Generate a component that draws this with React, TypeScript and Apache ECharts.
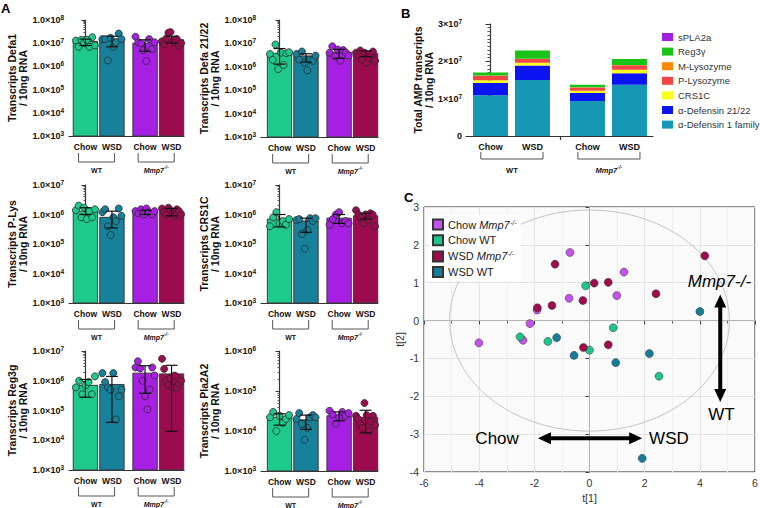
import React, { useEffect, useRef } from 'react';
import * as echarts from 'echarts';

const FONT = '"Liberation Sans", Arial, Helvetica, sans-serif';

/* ---------------- Panel A data ---------------- */
const dietLabels = ['Chow', 'WSD', 'Chow', 'WSD'];
const genotypeLabels = ['WT', 'Mmp7'];

const defa1Mean = [1.2e7, 1.5e7, 1.0e7, 1.4e7];
const defa1Low = [8.0e6, 7.0e6, 4.5e6, 1.0e7];
const defa1High = [1.5e7, 2.0e7, 1.4e7, 2.0e7];
const defa1Points = [
  [1.3e7, 7.0e6, 1.4e7, 1.0e7, 1.4e7, 7.0e6, 1.8e7, 8.0e6],
  [1.5e7, 1.5e7, 1.8e6, 1.7e7, 7.0e6, 1.1e7, 2.6e7, 1.5e7],
  [1.9e7, 1.1e7, 1.0e7, 5.0e6, 1.7e6, 1.5e7, 5.5e6, 1.1e7],
  [1.2e7, 9.0e6, 1.6e7, 2.8e7, 3.0e7, 1.3e7, 1.1e7, 1.5e7, 8.0e6, 1.0e7],
];

const defa2122Mean = [3.8e6, 2.9e6, 4.2e6, 3.8e6];
const defa2122Low = [1.3e6, 1.6e6, 2.3e6, 2.7e6];
const defa2122High = [6.0e6, 3.6e6, 5.6e6, 4.8e6];
const defa2122Points = [
  [3.5e6, 2.0e6, 9.0e6, 8.0e5, 4.0e6, 1.2e6, 3.8e6, 4.2e6],
  [3.5e6, 2.0e6, 4.5e6, 1.5e6, 7.0e5, 2.0e6, 1.8e6, 3.0e6],
  [4.0e6, 7.5e6, 2.8e6, 5.5e6, 1.8e6, 5.2e6, 4.0e6, 3.0e6],
  [4.0e6, 3.0e6, 5.0e6, 2.0e6, 4.0e6, 1.5e6, 2.5e6, 3.5e6, 4.5e6, 1.8e6],
];

const pLysMean = [1.3e6, 8.0e5, 1.2e6, 1.25e6];
const pLysLow = [1.0e6, 3.5e5, 1.0e6, 9.0e5];
const pLysHigh = [1.7e6, 1.3e6, 1.4e6, 1.6e6];
const pLysPoints = [
  [1.4e6, 2.0e6, 8.0e5, 1.7e6, 7.0e5, 1.3e6, 8.0e5, 1.5e6],
  [1.2e6, 1.5e6, 4.0e5, 2.0e5, 8.0e5, 6.0e5, 1.6e6, 9.0e5],
  [1.3e6, 1.1e6, 1.5e6, 1.0e6, 1.6e6, 1.2e6, 1.0e6, 1.3e6],
  [1.6e6, 1.2e6, 1.0e6, 1.7e6, 1.4e6, 1.1e6, 9.0e5, 1.5e6, 1.3e6, 1.0e6],
];

const crs1cMean = [7.0e5, 6.0e5, 7.5e5, 9.0e5];
const crs1cLow = [3.8e5, 2.5e5, 5.0e5, 7.0e5];
const crs1cHigh = [1.0e6, 7.5e5, 1.0e6, 1.1e6];
const crs1cPoints = [
  [4.0e5, 8.0e5, 1.2e6, 5.0e5, 6.0e5, 4.5e5, 7.0e5],
  [6.5e5, 7.0e5, 2.2e5, 7.0e4, 3.0e5, 7.5e5, 6.0e5, 7.5e5],
  [4.5e5, 7.0e5, 1.0e6, 1.2e6, 5.0e5, 6.0e5, 5.0e5],
  [1.4e6, 1.0e6, 8.0e5, 5.0e5, 1.0e6, 6.5e5, 1.1e6, 1.0e6, 4.0e5],
];

const reg3gMean = [7.0e5, 7.5e5, 1.8e6, 1.7e6];
const reg3gLow = [2.8e5, 4.0e4, 3.8e5, 2.0e4];
const reg3gHigh = [1.1e6, 1.4e6, 3.2e6, 3.3e6];
const reg3gPoints = [
  [6.0e5, 1.0e6, 3.5e5, 7.0e5, 9.0e5, 3.5e5, 1.4e6],
  [1.8e6, 9.0e5, 6.0e5, 5.0e5, 1.8e6, 5.0e4, 3.0e5, 5.0e5],
  [2.8e6, 4.5e6, 2.6e6, 1.0e6, 3.0e5, 1.1e5, 5.0e5, 2.8e6, 1.5e6],
  [5.5e6, 2.5e6, 1.0e6, 7.0e5, 1.2e6, 6.0e5, 1.5e6, 6.0e5, 8.0e5, 1.0e6],
];

const pla2a2Mean = [2.2e4, 1.9e4, 2.4e4, 2.2e4];
const pla2a2Low = [1.4e4, 1.1e4, 1.8e4, 9.0e3];
const pla2a2High = [2.7e4, 2.5e4, 3.0e4, 3.3e4];
const pla2a2Points = [
  [2.2e4, 3.0e4, 1.0e4, 2.4e4, 1.6e4, 2.0e4, 2.5e4],
  [2.0e4, 2.8e4, 1.5e4, 6.0e3, 1.2e4, 2.2e4, 2.5e4, 2.2e4],
  [3.2e4, 2.6e4, 1.5e4, 2.2e4, 3.0e4, 2.4e4, 2.8e4],
  [2.4e4, 2.0e4, 1.5e4, 1.2e4, 5.0e4, 2.5e4, 1.0e4, 1.7e4, 2.4e4, 1.4e4],
];

const panelsA = [
  { name: 'Transcripts Defa1\n/ 10ng RNA', mean: defa1Mean, low: defa1Low, high: defa1High, points: defa1Points, minExp: 3, maxExp: 8 },
  { name: 'Transcripts Defa 21/22\n/ 10ng RNA', mean: defa2122Mean, low: defa2122Low, high: defa2122High, points: defa2122Points, minExp: 3, maxExp: 8 },
  { name: 'Transcripts P-Lys\n/ 10ng RNA', mean: pLysMean, low: pLysLow, high: pLysHigh, points: pLysPoints, minExp: 3, maxExp: 7 },
  { name: 'Transcripts CRS1C\n/ 10ng RNA', mean: crs1cMean, low: crs1cLow, high: crs1cHigh, points: crs1cPoints, minExp: 3, maxExp: 7 },
  { name: 'Transcripts Reg3g\n/ 10ng RNA', mean: reg3gMean, low: reg3gLow, high: reg3gHigh, points: reg3gPoints, minExp: 3, maxExp: 7 },
  { name: 'Transcripts Pla2A2\n/ 10ng RNA', mean: pla2a2Mean, low: pla2a2Low, high: pla2a2High, points: pla2a2Points, minExp: 3, maxExp: 6 },
];

/* ---------------- Panel B data ---------------- */
const ampGroups = ['Chow WT', 'WSD WT', 'Chow Mmp7', 'WSD Mmp7'];
const ampComponents = ['α-Defensin 1 family', 'α-Defensin 21/22', 'CRS1C', 'P-Lysozyme', 'M-Lysozyme', 'Reg3γ', 'sPLA2a'];
const ampDefensin1 = [1.09e7, 1.5e7, 0.94e7, 1.37e7];
const ampDefensin2122 = [0.33e7, 0.39e7, 0.215e7, 0.314e7];
const ampCrs1c = [0.07e7, 0.07e7, 0.054e7, 0.09e7];
const ampPLys = [0.12e7, 0.1e7, 0.09e7, 0.12e7];
const ampMLys = [0.008e7, 0.008e7, 0.005e7, 0.006e7];
const ampReg3 = [0.08e7, 0.22e7, 0.07e7, 0.16e7];
const ampSpla2a = [0.002e7, 0.003e7, 0.002e7, 0.002e7];
const ampValues = [ampDefensin1, ampDefensin2122, ampCrs1c, ampPLys, ampMLys, ampReg3, ampSpla2a];

/* ---------------- Panel C data ---------------- */
const pcaNames = ['Chow Mmp7', 'Chow WT', 'WSD Mmp7', 'WSD WT'];
const pcaChowMmp7 = [[-0.71, 1.8], [-0.74, 0.59], [-1.9, 0.28], [-2.16, -0.08], [-2.41, -0.52], [-4.01, -0.59], [1.25, 1.28], [0.99, 0.66]];
const pcaChowWT = [[-0.14, 0.92], [-2.52, -0.43], [-1.51, -0.55], [0.0, -0.78], [0.86, -0.19], [2.52, -1.47]];
const pcaWsdMmp7 = [[-1.25, 1.49], [0.17, 0.99], [0.68, 1.01], [-0.24, 0.53], [-1.36, 0.4], [-1.89, 0.34], [-0.22, -0.71], [0.68, -0.64], [4.18, 1.71], [2.41, 0.71]];
const pcaWsdWT = [[-1.19, -0.45], [-0.56, -0.92], [4.0, 0.24], [2.17, -0.87], [0.95, -1.11], [1.91, -3.64]];
const pcaSeries = [pcaChowMmp7, pcaChowWT, pcaWsdMmp7, pcaWsdWT];
const pcaEllipse = [0, 0, 5.07, 2.92];

/* ---------------- styles & layout ---------------- */
const A_COLORS = ['#1fc98b', '#17809a', '#a61fe2', '#9a0c4e'];
const B_COLORS = ['#1598b4', '#0c14f2', '#ffff1a', '#f24545', '#ff8a00', '#19c419', '#a020e0'];
const C_COLORS = ['#c353ea', '#1fc489', '#9d0d4c', '#157d98'];

const A_POS = [0, 1, 2.25, 3.25];
const A_BAR_W = 0.92;
const A_SPREAD = 0.72;
const A_XMAX = 3.72;
const A_LAYOUT = [
  { left: 69, top: 20, width: 115, height: 116, xMin: -0.62 },
  { left: 261, top: 20, width: 117, height: 117, xMin: -0.7 },
  { left: 69, top: 185, width: 115, height: 118, xMin: -0.62 },
  { left: 261, top: 185, width: 117, height: 118, xMin: -0.7 },
  { left: 69, top: 351, width: 115, height: 119, xMin: -0.62 },
  { left: 261, top: 351, width: 117, height: 120, xMin: -0.7 },
];
const B_POS = [0, 1, 2.31, 3.31];
const B_BAR_W = 0.833;

const C_ARROWS = [
  { from: [-1.87, -3.11], to: [1.91, -3.11] },
  { from: [4.74, 0.69], to: [4.74, -2.15] },
];
const C_TEXTS = [
  { text: 'Chow', at: [-3.35, -3.11], italic: false },
  { text: 'WSD', at: [2.88, -3.11], italic: false },
  { text: 'Mmp7-/-', at: [4.71, 1.04], italic: true },
  { text: 'WT', at: [4.78, -2.49], italic: false },
];

const nearestIdx = (arr: number[], v: number) =>
  arr.reduce((best, p, i) => (Math.abs(p - v) < Math.abs(arr[best] - v) ? i : best), 0);

const supRich = (size: number, supSize: number, color = '#111') => ({
  b: { fontSize: size, fontWeight: 'bold', fontFamily: FONT, color, lineHeight: size + 3 },
  s: { fontSize: supSize, fontWeight: 'bold', fontFamily: FONT, color, verticalAlign: 'top', lineHeight: supSize },
});

const genoRich = (size: number) => ({
  g: { fontSize: size, fontWeight: 'bold', fontFamily: FONT, fill: '#111', color: '#111', lineHeight: size + 3 },
  i: { fontSize: size, fontWeight: 'bold', fontStyle: 'italic', fontFamily: FONT, fill: '#111', color: '#111', lineHeight: size + 3 },
  s: { fontSize: size * 0.7, fontWeight: 'bold', fontStyle: 'italic', fontFamily: FONT, fill: '#111', color: '#111', verticalAlign: 'top', lineHeight: size * 0.7 },
});

function bracketSeries(gridIdx: number, yBase: number, spans: number[][], off: any, size: number) {
  return {
    type: 'custom',
    xAxisIndex: gridIdx,
    yAxisIndex: gridIdx,
    silent: true,
    z: 5,
    encode: { x: [0, 2], y: 1 },
    data: spans.map((s, gi) => [s[0], yBase, s[1], gi]),
    renderItem: (params: any, api: any) => {
      const a = api.coord([api.value(0), api.value(1)]);
      const b = api.coord([api.value(2), api.value(1)]);
      const gi = api.value(3);
      const base = a[1];
      const label = genotypeLabels[gi] === 'WT' ? '{g|WT}' : '{i|Mmp7}{s|-/-}';
      return {
        type: 'group',
        children: [
          {
            type: 'polyline',
            shape: { points: [[a[0], base + off.top], [a[0], base + off.bottom], [b[0], base + off.bottom], [b[0], base + off.top]] },
            style: { stroke: '#555', lineWidth: 1, fill: 'none' },
          },
          {
            type: 'text',
            style: {
              text: label,
              x: (a[0] + b[0]) / 2,
              y: base + off.label,
              align: 'center',
              verticalAlign: 'middle',
              fontSize: size,
              fontFamily: FONT,
              fontWeight: 'bold',
              fill: '#111',
              rich: genoRich(size),
            },
          },
        ],
      };
    },
  };
}

function arrowChildren(p: number[], q: number[], headLen: number, headW: number, shaftW: number) {
  const dx = q[0] - p[0];
  const dy = q[1] - p[1];
  const len = Math.hypot(dx, dy);
  const ux = dx / len;
  const uy = dy / len;
  const nx = -uy;
  const ny = ux;
  const p2 = [p[0] + ux * headLen, p[1] + uy * headLen];
  const q2 = [q[0] - ux * headLen, q[1] - uy * headLen];
  return [
    {
      type: 'line',
      shape: { x1: p[0] + ux * headLen * 0.6, y1: p[1] + uy * headLen * 0.6, x2: q[0] - ux * headLen * 0.6, y2: q[1] - uy * headLen * 0.6 },
      style: { stroke: '#000', lineWidth: shaftW },
    },
    {
      type: 'polygon',
      shape: { points: [p, [p2[0] + (nx * headW) / 2, p2[1] + (ny * headW) / 2], [p2[0] - (nx * headW) / 2, p2[1] - (ny * headW) / 2]] },
      style: { fill: '#000' },
    },
    {
      type: 'polygon',
      shape: { points: [q, [q2[0] + (nx * headW) / 2, q2[1] + (ny * headW) / 2], [q2[0] - (nx * headW) / 2, q2[1] - (ny * headW) / 2]] },
      style: { fill: '#000' },
    },
  ];
}

function buildOption() {
  const grid: any[] = [];
  const xAxis: any[] = [];
  const yAxis: any[] = [];
  const series: any[] = [];

  /* ----- Panel A ----- */
  panelsA.forEach((p, i) => {
    const L = A_LAYOUT[i];
    const yMin = Math.pow(10, p.minExp);
    const yMax = Math.pow(10, p.maxExp);
    grid.push({ left: L.left, top: L.top, width: L.width, height: L.height, outerBoundsMode: 'none' });
    xAxis.push({
      gridIndex: i,
      type: 'value',
      min: L.xMin,
      max: A_XMAX,
      axisLine: { show: true, lineStyle: { color: '#333', width: 1.2 } },
      axisTick: { show: false },
      splitLine: { show: false },
      axisLabel: {
        customValues: A_POS,
        formatter: (v: number) => dietLabels[nearestIdx(A_POS, v)],
        fontSize: 8.5,
        fontWeight: 'bold',
        fontFamily: FONT,
        color: '#111',
        margin: 6,
      },
    });
    yAxis.push({
      gridIndex: i,
      type: 'log',
      logBase: 10,
      min: yMin,
      max: yMax,
      splitNumber: p.maxExp - p.minExp,
      axisLine: { show: true, lineStyle: { color: '#333', width: 1.2 } },
      axisTick: { show: true, length: 4, lineStyle: { color: '#333' } },
      minorTick: { show: true, splitNumber: 9, length: 2, lineStyle: { color: '#555' } },
      splitLine: { show: false },
      axisLabel: {
        formatter: (v: number) => `{b|1.0×10}{s|${Math.round(Math.log10(v))}}`,
        rich: supRich(9, 6.5),
        margin: 5,
      },
      name: p.name,
      nameLocation: 'middle',
      nameGap: 41,
      nameTextStyle: { fontSize: 10.5, fontWeight: 'bold', fontFamily: FONT, color: '#111', lineHeight: 11 },
    });
    series.push({
      type: 'custom',
      xAxisIndex: i,
      yAxisIndex: i,
      silent: true,
      z: 2,
      data: p.mean.map((m, g) => [A_POS[g], m, g]),
      renderItem: (params: any, api: any) => {
        const x = api.value(0);
        const tl = api.coord([x - A_BAR_W / 2, api.value(1)]);
        const br = api.coord([x + A_BAR_W / 2, yMin]);
        return {
          type: 'rect',
          shape: { x: tl[0], y: tl[1], width: br[0] - tl[0], height: br[1] - tl[1] },
          style: { fill: A_COLORS[api.value(2)], stroke: '#3a3a3a', lineWidth: 1 },
        };
      },
    });
    const dots: any[] = [];
    p.points.forEach((pts, g) => {
      pts.forEach((v, k) => {
        const off = pts.length > 1 ? (k / (pts.length - 1) - 0.5) * A_SPREAD : 0;
        dots.push({ value: [A_POS[g] + off, v], itemStyle: { color: A_COLORS[g] } });
      });
    });
    series.push({
      type: 'scatter',
      xAxisIndex: i,
      yAxisIndex: i,
      silent: true,
      z: 3,
      symbolSize: 7,
      itemStyle: { borderColor: '#2a2a2a', borderWidth: 0.8, opacity: 1 },
      data: dots,
    });
    series.push({
      type: 'custom',
      xAxisIndex: i,
      yAxisIndex: i,
      silent: true,
      z: 4,
      data: p.mean.map((m, g) => [A_POS[g], m, p.low[g], p.high[g]]),
      renderItem: (params: any, api: any) => {
        const x = api.value(0);
        const lo = api.coord([x, api.value(2)]);
        const hi = api.coord([x, api.value(3)]);
        const cw = 6;
        const st = { stroke: '#111', lineWidth: 1.2 };
        return {
          type: 'group',
          children: [
            { type: 'line', shape: { x1: lo[0], y1: lo[1], x2: hi[0], y2: hi[1] }, style: st },
            { type: 'line', shape: { x1: lo[0] - cw, y1: lo[1], x2: lo[0] + cw, y2: lo[1] }, style: st },
            { type: 'line', shape: { x1: hi[0] - cw, y1: hi[1], x2: hi[0] + cw, y2: hi[1] }, style: st },
          ],
        };
      },
    });
    series.push(
      bracketSeries(
        i,
        yMin,
        [
          [A_POS[0] - 0.26, A_POS[1] + 0.1],
          [A_POS[2] - 0.26, A_POS[3] + 0.1],
        ],
        { top: 17, bottom: 26, label: 34 },
        7,
      ),
    );
  });

  /* ----- Panel B ----- */
  const bi = 6;
  grid.push({ left: 466, top: 24, width: 187, height: 112, outerBoundsMode: 'none' });
  xAxis.push({
    gridIndex: bi,
    type: 'value',
    min: -0.583,
    max: 3.87,
    axisLine: { show: true, lineStyle: { color: '#333', width: 1.2 } },
    axisTick: { show: true, customValues: [1.65], length: 4, lineStyle: { color: '#333', width: 1.2 } },
    splitLine: { show: false },
    axisLabel: {
      customValues: B_POS,
      formatter: (v: number) => dietLabels[nearestIdx(B_POS, v)],
      fontSize: 9,
      fontWeight: 'bold',
      fontFamily: FONT,
      color: '#111',
      margin: 6,
    },
  });
  yAxis.push({
    gridIndex: bi,
    type: 'value',
    min: 0,
    max: 3e7,
    interval: 1e7,
    axisLine: { show: true, lineStyle: { color: '#333', width: 1.2 } },
    axisTick: { show: true, length: 5, lineStyle: { color: '#333' } },
    minorTick: { show: true, splitNumber: 10, length: 3, lineStyle: { color: '#555' } },
    splitLine: { show: false },
    axisLabel: {
      formatter: (v: number) => (v === 0 ? '{b|0}' : `{b|${Math.round(v / 1e7)}×10}{s|7}`),
      rich: supRich(9, 6.5),
      margin: 4,
    },
    name: 'Total AMP transcripts\n/ 10ng RNA',
    nameLocation: 'middle',
    nameGap: 28,
    nameTextStyle: { fontSize: 10.5, fontWeight: 'bold', fontFamily: FONT, color: '#111', lineHeight: 11 },
  });
  ampComponents.forEach((name, c) => {
    series.push({
      type: 'custom',
      name,
      xAxisIndex: bi,
      yAxisIndex: bi,
      silent: true,
      z: 2,
      itemStyle: { color: B_COLORS[c] },
      encode: { x: 0, y: [1, 2] },
      data: B_POS.map((x, g) => {
        let base = 0;
        for (let k = 0; k < c; k++) base += ampValues[k][g];
        return [x, base, base + ampValues[c][g]];
      }),
      renderItem: (params: any, api: any) => {
        const x = api.value(0);
        const top = api.coord([x, api.value(2)]);
        const bottom = api.coord([x, api.value(1)]);
        const w = api.size([B_BAR_W, 0])[0];
        return {
          type: 'rect',
          shape: { x: top[0] - w / 2, y: top[1], width: w, height: bottom[1] - top[1] },
          style: { fill: B_COLORS[c] },
        };
      },
    });
  });
  series.push(
    bracketSeries(
      bi,
      0,
      [
        [B_POS[0] - 0.23, B_POS[1] + 0.25],
        [B_POS[2] - 0.23, B_POS[3] + 0.25],
      ],
      { top: 16, bottom: 23, label: 34 },
      7.5,
    ),
  );

  /* ----- Panel C ----- */
  const ci = 7;
  grid.push({
    left: 424,
    top: 207,
    width: 331,
    height: 265,
    show: true,
    backgroundColor: '#fafafa',
    borderColor: '#222',
    borderWidth: 1,
    outerBoundsMode: 'none',
  });
  xAxis.push({
    gridIndex: ci,
    type: 'value',
    min: -6,
    max: 6,
    interval: 2,
    axisLine: { show: false },
    axisTick: { show: true, length: 4, lineStyle: { color: '#444' } },
    minorTick: { show: true, splitNumber: 2, length: 3, lineStyle: { color: '#666' } },
    splitLine: { show: true, lineStyle: { color: '#e3e3e3', width: 1 } },
    minorSplitLine: { show: true, lineStyle: { color: '#efefef', width: 1 } },
    axisLabel: { fontSize: 10.5, fontFamily: FONT, color: '#333', margin: 5 },
    name: 't[1]',
    nameLocation: 'middle',
    nameGap: 16,
    nameTextStyle: { fontSize: 10.5, fontFamily: FONT, color: '#333' },
  });
  yAxis.push({
    gridIndex: ci,
    type: 'value',
    min: -4,
    max: 3,
    interval: 1,
    axisLine: { show: false },
    axisTick: { show: true, length: 4, lineStyle: { color: '#444' } },
    splitLine: { show: true, lineStyle: { color: '#e3e3e3', width: 1 } },
    axisLabel: { fontSize: 10.5, fontFamily: FONT, color: '#333', margin: 5 },
    name: 't[2]',
    nameLocation: 'middle',
    nameGap: 14,
    nameTextStyle: { fontSize: 10.5, fontFamily: FONT, color: '#333' },
  });
  series.push({
    type: 'custom',
    xAxisIndex: ci,
    yAxisIndex: ci,
    silent: true,
    z: 1,
    data: [pcaEllipse],
    renderItem: (params: any, api: any) => {
      const c = api.coord([api.value(0), api.value(1)]);
      const rx = api.size([api.value(2), 0])[0];
      const ry = api.size([0, api.value(3)])[1];
      const h0 = api.coord([-6, 0]);
      const h1 = api.coord([6, 0]);
      const v0 = api.coord([0, -4]);
      const v1 = api.coord([0, 3]);
      return {
        type: 'group',
        children: [
          { type: 'line', shape: { x1: h0[0], y1: h0[1], x2: h1[0], y2: h1[1] }, style: { stroke: '#b3b3b3', lineWidth: 1 } },
          { type: 'line', shape: { x1: v0[0], y1: v0[1], x2: v1[0], y2: v1[1] }, style: { stroke: '#b3b3b3', lineWidth: 1 } },
          { type: 'ellipse', shape: { cx: c[0], cy: c[1], rx, ry }, style: { fill: 'none', stroke: '#c4c4c4', lineWidth: 1 } },
        ],
      };
    },
  });
  pcaSeries.forEach((pts, k) => {
    series.push({
      type: 'scatter',
      name: pcaNames[k],
      xAxisIndex: ci,
      yAxisIndex: ci,
      silent: true,
      z: 3,
      symbolSize: 8,
      itemStyle: { color: C_COLORS[k], borderColor: '#333', borderWidth: 0.5, opacity: 1 },
      data: pts,
    });
  });
  series.push({
    type: 'custom',
    xAxisIndex: ci,
    yAxisIndex: ci,
    silent: true,
    z: 6,
    data: [[0, 0]],
    renderItem: (params: any, api: any) => {
      const children: any[] = [];
      C_ARROWS.forEach((a) => {
        children.push(...arrowChildren(api.coord(a.from), api.coord(a.to), 13, 12, 4));
      });
      C_TEXTS.forEach((t) => {
        const p = api.coord(t.at);
        children.push({
          type: 'text',
          style: {
            text: t.text,
            x: p[0],
            y: p[1],
            align: 'center',
            verticalAlign: 'middle',
            fontSize: 17,
            fontFamily: FONT,
            fontStyle: t.italic ? 'italic' : 'normal',
            fill: '#000',
          },
        });
      });
      return { type: 'group', children };
    },
  });

  return {
    animation: false,
    backgroundColor: '#ffffff',
    grid,
    xAxis,
    yAxis,
    series,
    legend: [
      {
        data: ampComponents.slice().reverse(),
        left: 662,
        top: 32,
        orient: 'vertical',
        icon: 'rect',
        itemWidth: 11,
        itemHeight: 8,
        itemGap: 4.6,
        padding: 0,
        selectedMode: false,
        textStyle: { fontSize: 9.5, fontFamily: FONT, color: '#333' },
      },
      {
        data: pcaNames,
        left: 429,
        top: 215,
        orient: 'vertical',
        icon: 'rect',
        itemWidth: 10,
        itemHeight: 10,
        itemGap: 3.7,
        padding: [3, 4, 3, 3],
        backgroundColor: '#ffffff',
        selectedMode: false,
        formatter: (name: string) => {
          const parts = name.split(' ');
          return parts[1] === 'Mmp7' ? `{n|${parts[0]} }{i|Mmp7}{s|-/-}` : `{n|${name}}`;
        },
        textStyle: {
          fontSize: 11,
          fontFamily: FONT,
          color: '#222',
          rich: {
            n: { fontSize: 11, fontFamily: FONT, color: '#222', lineHeight: 13 },
            i: { fontSize: 11, fontFamily: FONT, color: '#222', fontStyle: 'italic', lineHeight: 13 },
            s: { fontSize: 7.5, fontFamily: FONT, color: '#222', fontStyle: 'italic', verticalAlign: 'top', lineHeight: 7.5 },
          },
        },
      },
    ],
    graphic: [
      { type: 'text', left: 1, top: 2, style: { text: 'A', fontSize: 13, fontWeight: 'bold', fontFamily: FONT, fill: '#000' } },
      { type: 'text', left: 401, top: 7, style: { text: 'B', fontSize: 13, fontWeight: 'bold', fontFamily: FONT, fill: '#000' } },
      { type: 'text', left: 404, top: 191, style: { text: 'C', fontSize: 13, fontWeight: 'bold', fontFamily: FONT, fill: '#000' } },
    ],
  };
}

export default function App() {
  const ref = useRef<HTMLDivElement>(null);
  useEffect(() => {
    if (!ref.current) return;
    const chart = echarts.init(ref.current, null, { renderer: 'svg' });
    chart.setOption(buildOption() as any);
    return () => chart.dispose();
  }, []);
  return <div ref={ref} style={{ position: 'fixed', left: 0, top: 0, width: 760, height: 508 }} />;
}
